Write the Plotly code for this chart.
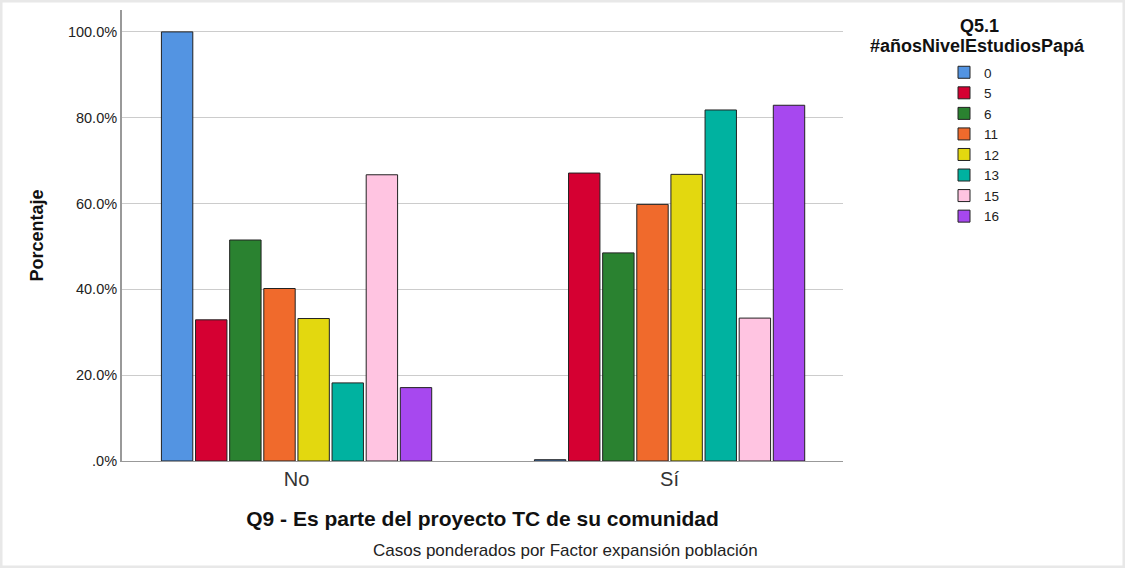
import plotly.graph_objects as go

categories = ["No", "Sí"]
series_names = ["0", "5", "6", "11", "12", "13", "15", "16"]
values_no = [100.0, 32.9, 51.5, 40.2, 33.2, 18.2, 66.7, 17.1]
values_si = [0.3, 67.1, 48.5, 59.8, 66.8, 81.8, 33.3, 82.9]
colors = ["#5394e2", "#d50032", "#2a8230", "#f06a2c", "#e3d80f", "#00b2a0", "#ffc4e1", "#a748ef"]
ytick_vals = [0, 20, 40, 60, 80, 100]
ytick_text = [".0%", "20.0%", "40.0%", "60.0%", "80.0%", "100.0%"]

W, H = 1125, 568
ml, mr, mt, mb = 122, 282, 10, 107
pw = W - ml - mr
ph = H - mt - mb
FONT = "Liberation Sans, Arial, sans-serif"

fig = go.Figure()
for i, name in enumerate(series_names):
    fig.add_trace(go.Bar(
        x=categories, y=[values_no[i], values_si[i]], name=name,
        marker=dict(color=colors[i], line=dict(color="#222222", width=1)),
    ))

fig.update_layout(
    width=W, height=H,
    margin=dict(l=ml, r=mr, t=mt, b=mb),
    paper_bgcolor="white", plot_bgcolor="white",
    font=dict(family=FONT, color="#222222"),
    barmode="group", bargap=0.268, bargroupgap=0.08,
    showlegend=True,
    legend=dict(x=(944 - ml) / pw, xanchor="left", y=1 - (57 - mt) / ph, yanchor="top",
                font=dict(size=13.5, color="#222222"), tracegroupgap=0,
                itemwidth=30, bgcolor="rgba(0,0,0,0)"),
    xaxis=dict(range=[-0.468, 1.465], showline=True, linecolor="#999999", linewidth=1, ticks="",
               tickfont=dict(size=20, color="#333333"),
               title=dict(text="<b>Q9 - Es parte del proyecto TC de su comunidad</b>",
                          font=dict(size=21, color="#111111"), standoff=22)),
    yaxis=dict(range=[0, 105.1], tickvals=ytick_vals, ticktext=ytick_text,
               showline=True, linecolor="#999999", linewidth=2,
               showgrid=True, gridcolor="#cccccc", gridwidth=1, zeroline=False,
               ticks="", tickfont=dict(size=14.5, color="#222222"),
               title=dict(text="<b>Porcentaje</b>", font=dict(size=18, color="#111111"), standoff=20)),
)

fig.add_annotation(text="<b>Q5.1</b>", xref="paper", yref="paper",
                   x=(980 - ml) / pw, y=1 - (26 - mt) / ph, xanchor="center", yanchor="middle",
                   showarrow=False, font=dict(size=18, color="#111111"))
fig.add_annotation(text="<b>#añosNivelEstudiosPapá</b>", xref="paper", yref="paper",
                   x=(978 - ml) / pw, y=1 - (46 - mt) / ph, xanchor="center", yanchor="middle",
                   showarrow=False, font=dict(size=18, color="#111111"))
fig.add_annotation(text="Casos ponderados por Factor expansión población", xref="paper", yref="paper",
                   x=(565 - ml) / pw, y=-(550 - (H - mb)) / ph, xanchor="center", yanchor="middle",
                   showarrow=False, font=dict(size=17, color="#222222"))
fig.add_shape(type="rect", xref="paper", yref="paper",
              x0=-(ml - 1) / pw, x1=(W - ml - 1) / pw,
              y0=-(mb - 1) / ph, y1=1 + (mt - 1) / ph,
              line=dict(color="#e8e8e8", width=3), layer="below")

fig.write_html("out.html", config={"displayModeBar": False},
               post_script="document.body.style.margin='0';")
